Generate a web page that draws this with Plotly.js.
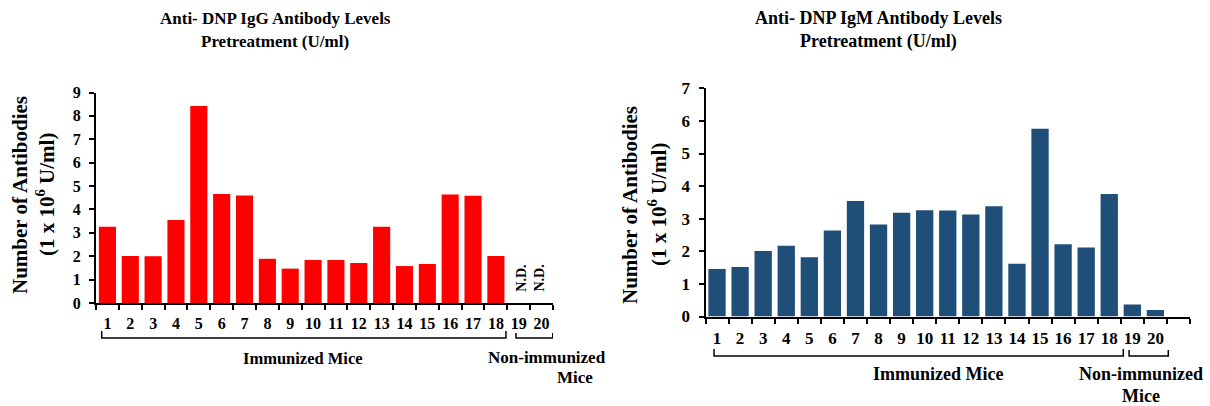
<!DOCTYPE html>
<html>
<head>
<meta charset="utf-8">
<script src="https://cdn.plot.ly/plotly-3.0.1.min.js"></script>
<style>html,body{margin:0;padding:0;background:#fff;}#chart{width:1210px;height:406px;}</style>
</head>
<body>
<div id="chart"></div>
<script>
// ---- data ----
const mice = ["1","2","3","4","5","6","7","8","9","10","11","12","13","14","15","16","17","18","19","20"];
const iggValues = [3.26, 2.01, 2.00, 3.55, 8.42, 4.66, 4.60, 1.89, 1.47, 1.84, 1.84, 1.71, 3.26, 1.58, 1.67, 4.64, 4.59, 2.01, null, null];
const igmValues = [1.46, 1.52, 2.01, 2.17, 1.82, 2.64, 3.54, 2.82, 3.18, 3.26, 3.25, 3.13, 3.38, 1.62, 5.76, 2.22, 2.12, 3.76, 0.37, 0.20];
const ndLabels = ["N.D.", "N.D."];
const ndMice = ["19", "20"];
const iggTitle = ["Anti- DNP IgG Antibody Levels", "Pretreatment (U/ml)"];
const igmTitle = ["Anti- DNP IgM Antibody Levels", "Pretreatment (U/ml)"];
const yTitle = ["Number of Antibodies", "(1 x 10<sup>6</sup> U/ml)"];
const groupLabels = ["Immunized Mice", "Non-immunized", "Mice"];

// ---- layout helpers ----
const W = 1210, H = 406;
const px = x => x / W;
const py = y => 1 - y / H;
const FAM = "'Liberation Serif', 'Times New Roman', serif";
const f = (size) => ({family: FAM, size: size, color: "#000", weight: "bold"});

const traces = [
  {type: "bar", x: mice, y: iggValues, xaxis: "x", yaxis: "y",
   marker: {color: "#FF0000"}, hoverinfo: "x+y"},
  {type: "bar", x: mice, y: igmValues, xaxis: "x2", yaxis: "y2",
   marker: {color: "#1F4E79"}, hoverinfo: "x+y"}
];

const xCommon = {
  type: "category", showline: true, linecolor: "#000", linewidth: 2,
  ticks: "outside", ticklen: 5, tickwidth: 2, tickcolor: "#000",
  tickson: "boundaries", showgrid: false, zeroline: false, tickangle: 0,
  ticklabelstandoff: 5, fixedrange: true
};
const yCommon = {
  showline: true, linecolor: "#000", linewidth: 2,
  ticks: "outside", ticklen: 5, tickwidth: 2, tickcolor: "#000",
  dtick: 1, tick0: 0, showgrid: false, zeroline: false,
  ticklabelstandoff: 5, fixedrange: true
};

const layout = {
  width: W, height: H,
  margin: {l: 0, r: 0, t: 0, b: 0},
  paper_bgcolor: "#fff", plot_bgcolor: "#fff",
  showlegend: false,
  bargap: 0.25,
  font: f(16),
  xaxis: Object.assign({}, xCommon, {
    domain: [px(96), px(553)], anchor: "y",
    categoryorder: "array", categoryarray: mice,
    range: [-0.5, 19.5], tickfont: f(16)
  }),
  yaxis: Object.assign({}, yCommon, {
    domain: [py(303), py(92.5)], anchor: "x",
    range: [0, 9], tickfont: f(16)
  }),
  xaxis2: Object.assign({}, xCommon, {
    domain: [px(705.5), px(1190)], anchor: "y2",
    categoryorder: "array", categoryarray: mice.concat([" "]),
    range: [-0.5, 20.5], tickfont: f(17)
  }),
  yaxis2: Object.assign({}, yCommon, {
    domain: [py(316.5), py(88.3)], anchor: "x2",
    range: [0, 7], tickfont: f(17)
  }),
  shapes: [],
  annotations: []
};

function ann(text, x, y, size, extra) {
  return Object.assign({text: text, x: px(x), y: py(y), xref: "paper", yref: "paper",
    xanchor: "center", yanchor: "middle", showarrow: false, font: f(size)}, extra || {});
}

// titles
layout.annotations.push(ann(iggTitle[0], 275, 18, 17));
layout.annotations.push(ann(iggTitle[1], 275, 42, 17));
layout.annotations.push(ann(igmTitle[0], 878, 18, 18));
layout.annotations.push(ann(igmTitle[1], 878, 42, 18));

// y titles
layout.annotations.push(ann(yTitle[0], 20, 195, 21, {textangle: -90}));
layout.annotations.push(ann(yTitle[1], 45, 195, 21, {textangle: -90}));
layout.annotations.push(ann(yTitle[0], 630, 205, 21, {textangle: -90}));
layout.annotations.push(ann(yTitle[1], 657, 205, 21, {textangle: -90}));

// N.D. labels (data-anchored)
ndMice.forEach((m, i) => {
  layout.annotations.push({text: ndLabels[i], x: mice.indexOf(m), xref: "x", y: py(278), yref: "paper",
    textangle: -90, showarrow: false, font: f(14), xanchor: "center", yanchor: "middle",
    xshift: i === 0 ? 2 : -3});
});

// group labels
layout.annotations.push(ann(groupLabels[0], 303, 358, 16.5));
layout.annotations.push(ann(groupLabels[1], 547, 357, 17));
layout.annotations.push(ann(groupLabels[2], 575, 377, 17));
layout.annotations.push(ann(groupLabels[0], 938, 374, 18));
layout.annotations.push(ann(groupLabels[1], 1141, 374, 18));
layout.annotations.push(ann(groupLabels[2], 1141, 396, 18));

// brackets
function bracket(xref, x0, x1, yLine, yTop) {
  return {type: "path", xref: xref, yref: "paper",
    path: `M ${x0},${py(yTop)} L ${x0},${py(yLine)} L ${x1},${py(yLine)} L ${x1},${py(yTop)}`,
    line: {color: "#000", width: 1.5}};
}
layout.shapes.push(bracket("x", -0.25, 17.44, 338, 331));
layout.shapes.push(bracket("x", 17.88, 19.49, 338, 333));
layout.shapes.push(bracket("x2", -0.13, 17.61, 356, 349));
layout.shapes.push(bracket("x2", 17.86, 19.56, 356, 350));

Plotly.newPlot("chart", traces, layout, {displayModeBar: false, staticPlot: true});
</script>
</body>
</html>
